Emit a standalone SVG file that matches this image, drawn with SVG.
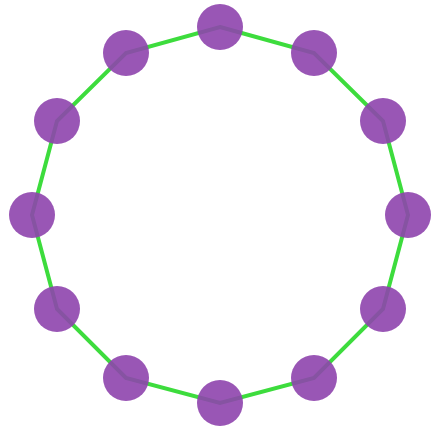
<svg xmlns="http://www.w3.org/2000/svg" width="431" height="427" viewBox="0 0 431 427">
<style>
.edge{stroke:#3ddc3d;stroke-width:4;fill:none}
.node{fill:#8e44ad;fill-opacity:0.9}
</style>
<rect width="431" height="427" fill="#ffffff"/>
<g id="connectors">
<polygon class="edge" points="220,27 314,53 383,121 408,215 383,309 314,378 220,403 126,378 57,309 32,215 57,121 126,53"/>
</g>
<g id="n0"><circle class="node" cx="220" cy="27" r="23"/></g>
<g id="n1"><circle class="node" cx="314" cy="53" r="23"/></g>
<g id="n2"><circle class="node" cx="383" cy="121" r="23"/></g>
<g id="n3"><circle class="node" cx="408" cy="215" r="23"/></g>
<g id="n4"><circle class="node" cx="383" cy="309" r="23"/></g>
<g id="n5"><circle class="node" cx="314" cy="378" r="23"/></g>
<g id="n6"><circle class="node" cx="220" cy="403" r="23"/></g>
<g id="n7"><circle class="node" cx="126" cy="378" r="23"/></g>
<g id="n8"><circle class="node" cx="57" cy="309" r="23"/></g>
<g id="n9"><circle class="node" cx="32" cy="215" r="23"/></g>
<g id="n10"><circle class="node" cx="57" cy="121" r="23"/></g>
<g id="n11"><circle class="node" cx="126" cy="53" r="23"/></g>
</svg>
